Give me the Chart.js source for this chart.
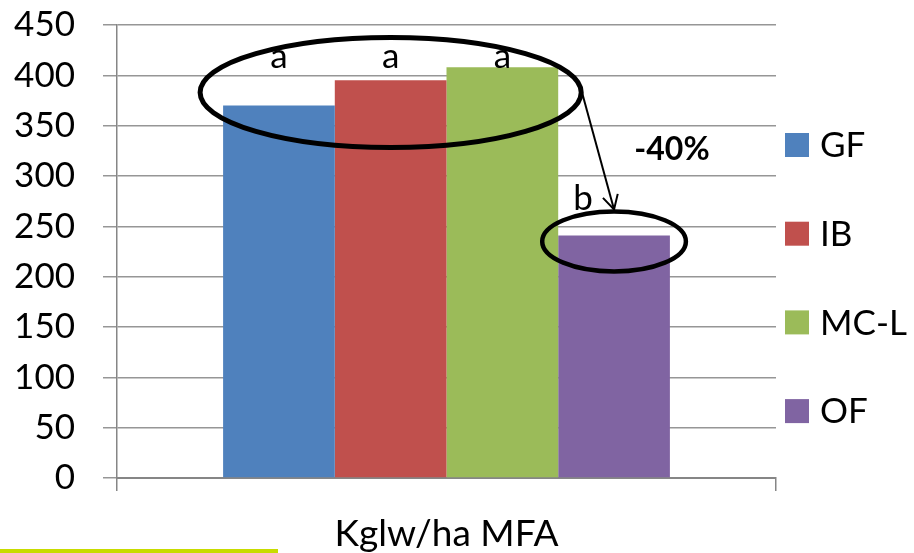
<!DOCTYPE html>
<html>
<head>
<meta charset="utf-8">
<script src="https://cdn.jsdelivr.net/npm/chart.js@4/dist/chart.umd.min.js"></script>
<style>
  html, body { margin: 0; padding: 0; background: #fff; }
  #wrap { width: 914px; height: 553px; position: relative; }
</style>
</head>
<body>
<div id="wrap"><canvas id="c" width="914" height="553"></canvas></div>
<script>
// Kg live weight per hectare of main forage area, by farm type
const categories = ['Kglw/ha MFA'];
const seriesNames = ['GF', 'IB', 'MC-L', 'OF'];
const seriesValues = [[370], [395], [408], [241]];
const seriesColors = ['#4f81bd', '#c0504d', '#9bbb59', '#8064a2'];
const yTicks = [0, 50, 100, 150, 200, 250, 300, 350, 400, 450];

// significance letters per series and the relative difference shown
const groupLetters = ['a', 'a', 'a', 'b'];
const diffLabel = '-40%';

const FONT = 'Lato, "Open Sans", sans-serif';

const annotate = {
  id: 'annotate',
  afterDatasetsDraw(chart) {
    const ctx = chart.ctx;
    const y = chart.scales.y;
    const bars = chart.data.datasets.map((d, i) => chart.getDatasetMeta(i).data[0]);
    ctx.save();
    ctx.fillStyle = '#000';
    ctx.strokeStyle = '#000';

    // letters
    ctx.font = '35px ' + FONT;
    ctx.textAlign = 'center';
    ctx.textBaseline = 'alphabetic';
    for (let i = 0; i < 3; i++) {
      ctx.fillText(groupLetters[i], bars[i].x, y.getPixelForValue(407));
    }
    ctx.fillText(groupLetters[3], bars[3].x - 31, y.getPixelForValue(266));

    // ellipse around the first three groups
    const l0 = bars[0].x - bars[0].width / 2;
    const r2 = bars[2].x + bars[2].width / 2;
    const cx1 = (l0 + r2) / 2, cy1 = y.getPixelForValue(383);
    const rx1 = (r2 - l0) / 2 + 23, ry1 = 55;
    ctx.lineWidth = 5;
    ctx.beginPath();
    ctx.ellipse(cx1, cy1, rx1, ry1, 0, 0, Math.PI * 2);
    ctx.stroke();

    // ellipse around the last group
    const cx2 = bars[3].x, cy2 = y.getPixelForValue(235);
    ctx.lineWidth = 4.5;
    ctx.beginPath();
    ctx.ellipse(cx2, cy2, bars[3].width / 2 + 16, 30, 0, 0, Math.PI * 2);
    ctx.stroke();

    // arrow from the first ellipse to the second
    const sx = cx1 + rx1, sy = cy1 - 3;
    const tx = cx2, ty = cy2 - 32;
    ctx.lineWidth = 2;
    ctx.beginPath();
    ctx.moveTo(sx, sy);
    ctx.lineTo(tx, ty);
    ctx.stroke();
    const ang = Math.atan2(ty - sy, tx - sx);
    const hl = 16, ha = 0.5;
    ctx.beginPath();
    ctx.moveTo(tx - hl * Math.cos(ang - ha), ty - hl * Math.sin(ang - ha));
    ctx.lineTo(tx, ty);
    ctx.lineTo(tx - hl * Math.cos(ang + ha), ty - hl * Math.sin(ang + ha));
    ctx.stroke();

    // difference label
    ctx.font = 'bold 32px ' + FONT;
    ctx.textAlign = 'center';
    ctx.fillText(diffLabel, 672, y.getPixelForValue(316));
    ctx.restore();
  },
  afterDraw(chart) {
    const ctx = chart.ctx;
    ctx.save();
    // legend
    ctx.font = '35px ' + FONT;
    ctx.textAlign = 'left';
    ctx.textBaseline = 'middle';
    chart.data.datasets.forEach((d, i) => {
      const cy = 145 + i * 88.7;
      ctx.fillStyle = d.backgroundColor;
      ctx.fillRect(785, cy - 12, 24, 24);
      ctx.fillStyle = '#000';
      ctx.fillText(d.label, 820, cy + 1);
    });
    // accent rule at the bottom
    ctx.fillStyle = '#c8dc00';
    ctx.fillRect(0, 549, 278, 4);
    ctx.restore();
  }
};

new Chart(document.getElementById('c'), {
  type: 'bar',
  data: {
    labels: categories,
    datasets: seriesNames.map((name, i) => ({
      label: name,
      data: seriesValues[i],
      backgroundColor: seriesColors[i],
      borderWidth: 0,
      categoryPercentage: 0.678,
      barPercentage: 1.0
    }))
  },
  options: {
    responsive: false,
    animation: false,
    devicePixelRatio: 1,
    layout: { padding: { left: 0, right: 138, top: 25, bottom: 0 } },
    plugins: { legend: { display: false }, tooltip: { enabled: false } },
    scales: {
      x: {
        afterFit(s) { s.height = 75; s.paddingLeft = 0; s.paddingRight = 0; },
        grid: { drawOnChartArea: false, drawTicks: true, tickLength: 13, color: '#868686', lineWidth: 1.5 },
        border: { color: '#868686', width: 2 },
        ticks: { color: '#000', font: { family: FONT, size: 37 }, padding: 21 }
      },
      y: {
        min: 0, max: 450,
        afterFit(s) { s.width = 117; s.paddingTop = 0; s.paddingBottom = 0; },
        afterBuildTicks(s) { s.ticks = yTicks.map(v => ({ value: v })); },
        grid: { color: '#969696', lineWidth: 1.5, tickLength: 14 },
        border: { color: '#868686', width: 1.5 },
        ticks: { color: '#000', font: { family: FONT, size: 35 }, padding: 28, autoSkip: false }
      }
    }
  },
  plugins: [annotate]
});
</script>
</body>
</html>
